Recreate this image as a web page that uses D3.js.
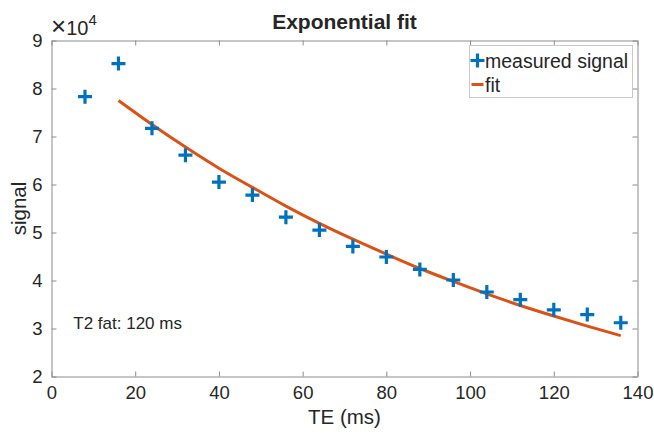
<!DOCTYPE html>
<html>
<head>
<meta charset="utf-8">
<script src="https://cdn.jsdelivr.net/npm/d3@7"></script>
<style>
  body { margin: 0; background: #fff; }
  text { font-family: "Liberation Sans", Arial, Helvetica, sans-serif; fill: #262626; }
</style>
</head>
<body>
<div id="chart"></div>
<script>
// measured echo times (ms) and signal
var te = [8, 16, 24, 32, 40, 48, 56, 64, 72, 80, 88, 96, 104, 112, 120, 128, 136];
var signal = [78300, 85200, 71700, 66100, 60500, 57800, 53200, 50500, 47100, 44900, 42300, 40100, 37600, 36000, 33900, 32900, 31200];

// fitted curve
var fitTe = [16, 24, 32, 40, 48, 56, 64, 72, 80, 88, 96, 104, 112, 120, 128, 136];
var fitSignal = [77500, 72500, 67800, 63400, 59400, 55500, 51900, 48600, 45500, 42500, 39800, 37200, 34800, 32600, 30500, 28500];

var xTicks = [0, 20, 40, 60, 80, 100, 120, 140];
var yTicks = [2, 3, 4, 5, 6, 7, 8, 9];

var margin = { top: 40.5, right: 16.5, bottom: 58.5, left: 51.5 };
var outer_width = 654;
var outer_height = 435;
var w = outer_width - margin.left - margin.right;
var h = outer_height - margin.top - margin.bottom;

var blue = "#0072BD";
var orange = "#D95319";
var axisCol = "#8c8c8c";

var svg = d3.select("#chart")
    .append("svg")
    .attr("width", outer_width)
    .attr("height", outer_height);

var g = svg.append("g")
    .attr("transform", "translate(" + margin.left + "," + margin.top + ")");

var xScale = d3.scaleLinear().domain([0, 140]).range([0, w]);
// y in units of 10^4
var yScale = d3.scaleLinear().domain([2, 9]).range([h, 0]);

// axes, ticks pointing inward like matlab
var xAxis = d3.axisBottom(xScale).tickValues(xTicks).tickSizeInner(-5).tickSizeOuter(0).tickPadding(9).tickFormat(d3.format("d"));
var xAxisTop = d3.axisTop(xScale).tickValues(xTicks).tickSizeInner(-5).tickSizeOuter(0).tickFormat("");
var yAxis = d3.axisLeft(yScale).tickValues(yTicks).tickSizeInner(-5).tickSizeOuter(0).tickPadding(9).tickFormat(d3.format("d"));
var yAxisRight = d3.axisRight(yScale).tickValues(yTicks).tickSizeInner(-5).tickSizeOuter(0).tickFormat("");

function styleAxis(sel) {
    sel.attr("font-size", null).attr("font-family", null);
    sel.select(".domain").attr("stroke", axisCol);
    sel.selectAll(".tick line").attr("stroke", axisCol);
    sel.selectAll(".tick text")
        .attr("fill", "#262626")
        .style("font-size", "18.5px");
}

g.append("g").attr("transform", "translate(0," + h + ")").call(xAxis).call(styleAxis);
g.append("g").call(xAxisTop).call(styleAxis);
g.append("g").call(yAxis).call(styleAxis);
g.append("g").attr("transform", "translate(" + w + ",0)").call(yAxisRight).call(styleAxis);

// fit line
var fitData = fitTe.map(function (d, i) { return [d, fitSignal[i]]; });
var line = d3.line()
    .x(function (d) { return xScale(d[0]); })
    .y(function (d) { return yScale(d[1] / 1e4); })
    .curve(d3.curveMonotoneX);

g.append("path")
    .datum(fitData)
    .attr("d", line)
    .attr("fill", "none")
    .attr("stroke", orange)
    .attr("stroke-width", 3);

// measured points as plus markers
var pts = te.map(function (d, i) { return [d, signal[i]]; });
var plusPath = "M-7,0H7M0,-7V7";
g.selectAll(".pt")
    .data(pts)
    .enter()
    .append("path")
    .attr("class", "pt")
    .attr("transform", function (d) {
        return "translate(" + xScale(d[0]) + "," + yScale(d[1] / 1e4) + ")";
    })
    .attr("d", plusPath)
    .attr("stroke", blue)
    .attr("stroke-width", 3.2)
    .attr("fill", "none");

// exponent label
var ex = svg.append("text")
    .attr("x", 51)
    .attr("y", 35)
    .style("font-size", "20px");
ex.append("tspan").style("font-size", "26px").text("\u00d7");
ex.append("tspan").text("10");
ex.append("tspan").attr("dy", -10).style("font-size", "15px").text("4");

// title
svg.append("text")
    .attr("x", margin.left + w / 2)
    .attr("y", 29)
    .attr("text-anchor", "middle")
    .style("font-size", "21px")
    .style("font-weight", "bold")
    .attr("fill", "#000")
    .text("Exponential fit");

// axis labels
svg.append("text")
    .attr("x", margin.left + w / 2)
    .attr("y", 424)
    .attr("text-anchor", "middle")
    .style("font-size", "20.5px")
    .text("TE (ms)");

svg.append("text")
    .attr("transform", "rotate(-90)")
    .attr("x", -(margin.top + h / 2))
    .attr("y", 26)
    .attr("text-anchor", "middle")
    .style("font-size", "20.5px")
    .text("signal");

// annotation
g.append("text")
    .attr("x", xScale(5.2))
    .attr("y", yScale(3.0))
    .style("font-size", "17px")
    .attr("fill", "#000")
    .text("T2 fat: 120 ms");

// legend
var lg = svg.append("g").attr("transform", "translate(469.5,45.5)");
lg.append("rect")
    .attr("width", 163)
    .attr("height", 52)
    .attr("fill", "#fff")
    .attr("stroke", "#c8c8c8")
    .attr("stroke-width", 1);
lg.append("path")
    .attr("transform", "translate(8,15)")
    .attr("d", plusPath)
    .attr("stroke", blue)
    .attr("stroke-width", 3.2);
lg.append("text")
    .attr("x", 15.5)
    .attr("y", 22)
    .style("font-size", "19.5px")
    .attr("fill", "#000")
    .text("measured signal");
lg.append("line")
    .attr("x1", 2).attr("x2", 14)
    .attr("y1", 39).attr("y2", 39)
    .attr("stroke", orange)
    .attr("stroke-width", 3);
lg.append("text")
    .attr("x", 15.5)
    .attr("y", 46)
    .style("font-size", "19.5px")
    .attr("fill", "#000")
    .text("fit");
</script>
</body>
</html>
